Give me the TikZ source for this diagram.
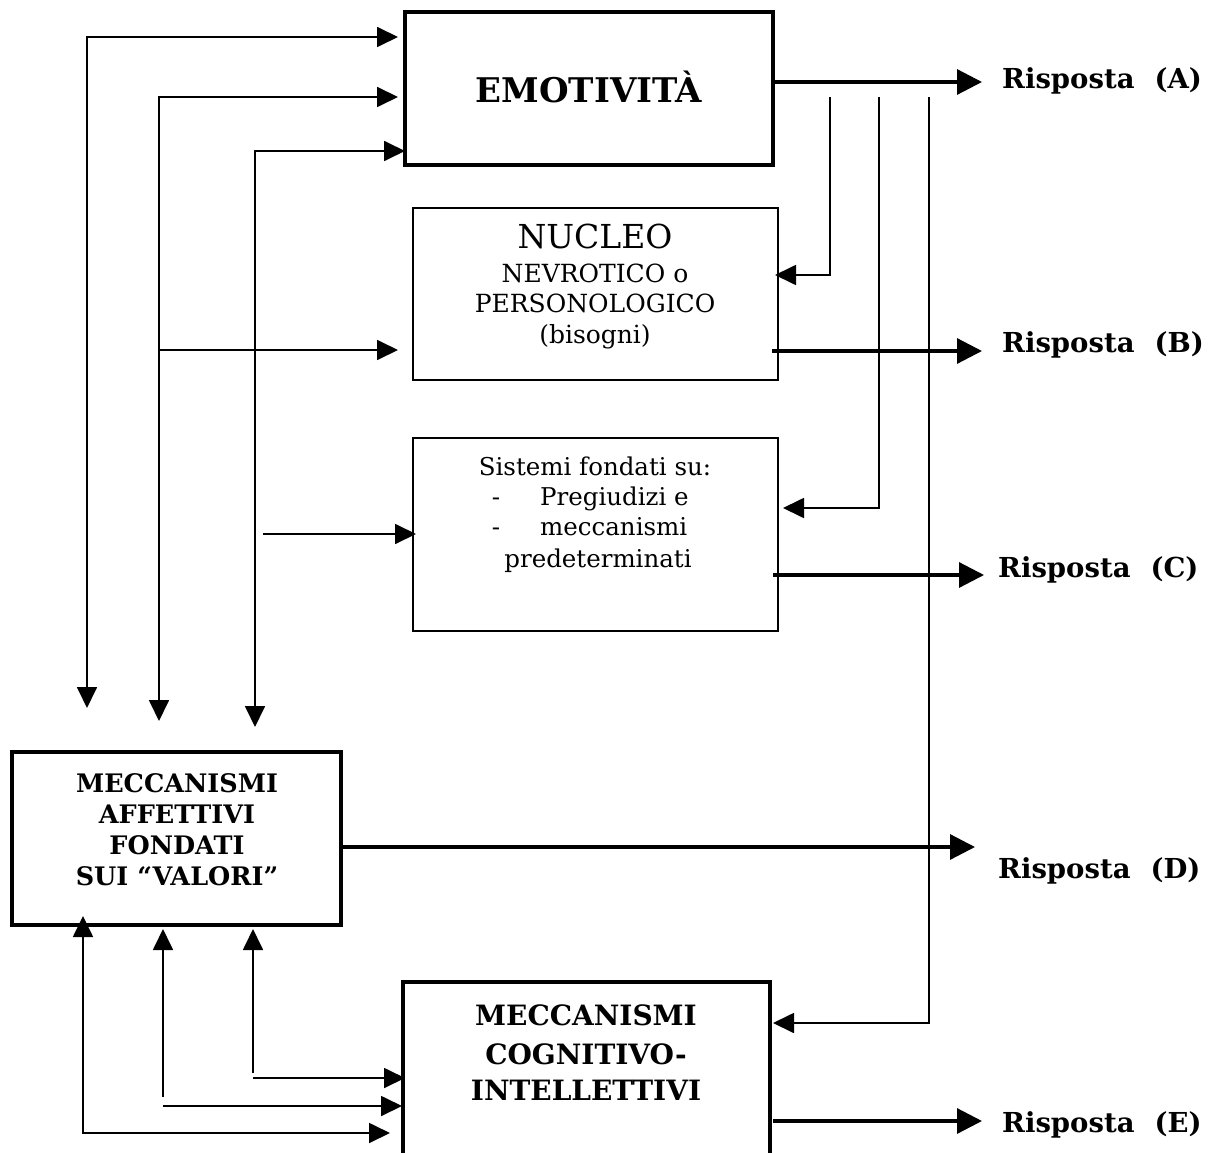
\documentclass[tikz,border=0pt]{standalone}
\usepackage{fontspec}
\setmainfont{DejaVu Serif}
\usetikzlibrary{arrows.meta}
\begin{document}
\begin{tikzpicture}[x=1pt,y=-1pt,
  box/.style={draw,anchor=north west,inner sep=0pt,outer sep=0pt},
  thinbox/.style={box,line width=1.8pt},
  thickbox/.style={box,line width=4pt},
  thinarr/.style={line width=1.8pt,-{Triangle[length=21pt,width=20pt]}},
  thinboth/.style={line width=1.8pt,{Triangle[length=21pt,width=20pt]}-{Triangle[length=21pt,width=20pt]}},
  thickarr/.style={line width=3.2pt,-{Triangle[length=25pt,width=25pt]}},
  resp/.style={anchor=base west,inner sep=0pt,font=\bfseries\fontsize{27.5}{30}\selectfont},
  ln/.style={anchor=base,inner sep=0pt},
  lnw/.style={anchor=base west,inner sep=0pt},
  nucf/.style={font=\fontsize{25}{28}\selectfont},
  sisf/.style={font=\fontsize{24.5}{28}\selectfont},
  afff/.style={font=\bfseries\fontsize{25.5}{28}\selectfont},
  cogf/.style={font=\bfseries\fontsize{28}{30}\selectfont}
]
\useasboundingbox (0,0) rectangle (1223,1153);
\clip (0,0) rectangle (1223,1153);

% boxes
\node[thickbox,minimum width=368pt,minimum height=153pt] (emo) at (405,12) {};
\node[thinbox,minimum width=365pt,minimum height=172pt] (nuc) at (413,208) {};
\node[thinbox,minimum width=365pt,minimum height=193pt] (sis) at (413,438) {};
\node[thickbox,minimum width=329pt,minimum height=173pt] (aff) at (12,752) {};
\node[thickbox,minimum width=367pt,minimum height=200pt] (cog) at (403,982) {};

% box texts
\node[ln,font=\bfseries\fontsize{34}{36}\selectfont] (emoT) at (589,103) {EMOTIVITÀ};

\node[ln,font=\fontsize{33}{36}\selectfont] (nuc1) at (595,248) {NUCLEO};
\node[ln,nucf] (nuc2) at (595,282) {NEVROTICO o};
\node[ln,nucf] (nuc3) at (595,312) {PERSONOLOGICO};
\node[ln,nucf] (nuc4) at (595,343) {(bisogni)};

\node[ln,sisf] (sis1) at (595,475) {Sistemi fondati su:};
\node[ln,sisf] (sis2d) at (496,505) {-};
\node[lnw,sisf] (sis2) at (540,505) {Pregiudizi e};
\node[ln,sisf] (sis3d) at (496,535) {-};
\node[lnw,sisf] (sis3) at (540,535) {meccanismi};
\node[ln,sisf] (sis4) at (598,567) {predeterminati};

\node[ln,afff] (aff1) at (177,792) {MECCANISMI};
\node[ln,afff] (aff2) at (177,823) {AFFETTIVI};
\node[ln,afff] (aff3) at (177,854) {FONDATI};
\node[ln,afff] (aff4) at (177,885) {SUI “VALORI”};

\node[ln,cogf] (cog1) at (586,1025) {MECCANISMI};
\node[ln,cogf] (cog2) at (586,1064) {COGNITIVO-};
\node[ln,cogf] (cog3) at (586,1100) {INTELLETTIVI};

% response labels
\node[resp] (rA) at (1002,89) {Risposta\hspace{20pt}(A)};
\node[resp] (rB) at (1002,352) {Risposta\hspace{20pt}(B)};
\node[resp] (rC) at (998,577) {Risposta\hspace{20pt}(C)};
\node[resp] (rD) at (998,878) {Risposta\hspace{20pt}(D)};
\node[resp] (rE) at (1002,1132) {Risposta\hspace{20pt}(E)};

% coordinates (arrow ends)
\coordinate (a1) at (87,708);   \coordinate (e1) at (398,37);
\coordinate (a2) at (159,721);  \coordinate (e2) at (398,97);
\coordinate (a3) at (255,727);  \coordinate (e3) at (405,151);
\coordinate (n2s) at (159,350); \coordinate (n2) at (398,350);
\coordinate (s3s) at (263,534); \coordinate (s3) at (416,534);

\coordinate (v1) at (830,97); \coordinate (n1) at (775,275);
\coordinate (v2) at (879,97); \coordinate (s1) at (783,508);
\coordinate (v3) at (929,97); \coordinate (c1) at (773,1023);

\coordinate (b1) at (83,916);  \coordinate (c3) at (390,1133);
\coordinate (b2t) at (163,929); \coordinate (b2s) at (163,1097);
\coordinate (c2s) at (163,1106); \coordinate (c2) at (402,1106);
\coordinate (b3t) at (253,929); \coordinate (b3s) at (253,1073);
\coordinate (c4s) at (253,1078); \coordinate (c4) at (405,1078);

% left feedback connectors
\draw[thinboth] (a1) |- (e1);
\draw[thinboth] (a2) |- (e2);
\draw[thinboth] (a3) |- (e3);
\draw[thinarr] (n2s) -- (n2);
\draw[thinarr] (s3s) -- (s3);

% right branch connectors
\draw[thinarr] (v1) |- (n1);
\draw[thinarr] (v2) |- (s1);
\draw[thinarr] (v3) |- (c1);

% outputs
\draw[thickarr] (emo.east |- 0,82) -- (982,82);
\draw[thickarr] (772,351) -- (982,351);
\draw[thickarr] (773,575) -- (984,575);
\draw[thickarr] (aff.east |- 0,847) -- (975,847);
\draw[thickarr] (773,1121) -- (982,1121);

% bottom connectors
\draw[thinboth] (b1) |- (c3);
\draw[thinarr] (b2s) -- (b2t);
\draw[thinarr] (c2s) -- (c2);
\draw[thinarr] (b3s) -- (b3t);
\draw[thinarr] (c4s) -- (c4);
\end{tikzpicture}
\end{document}
